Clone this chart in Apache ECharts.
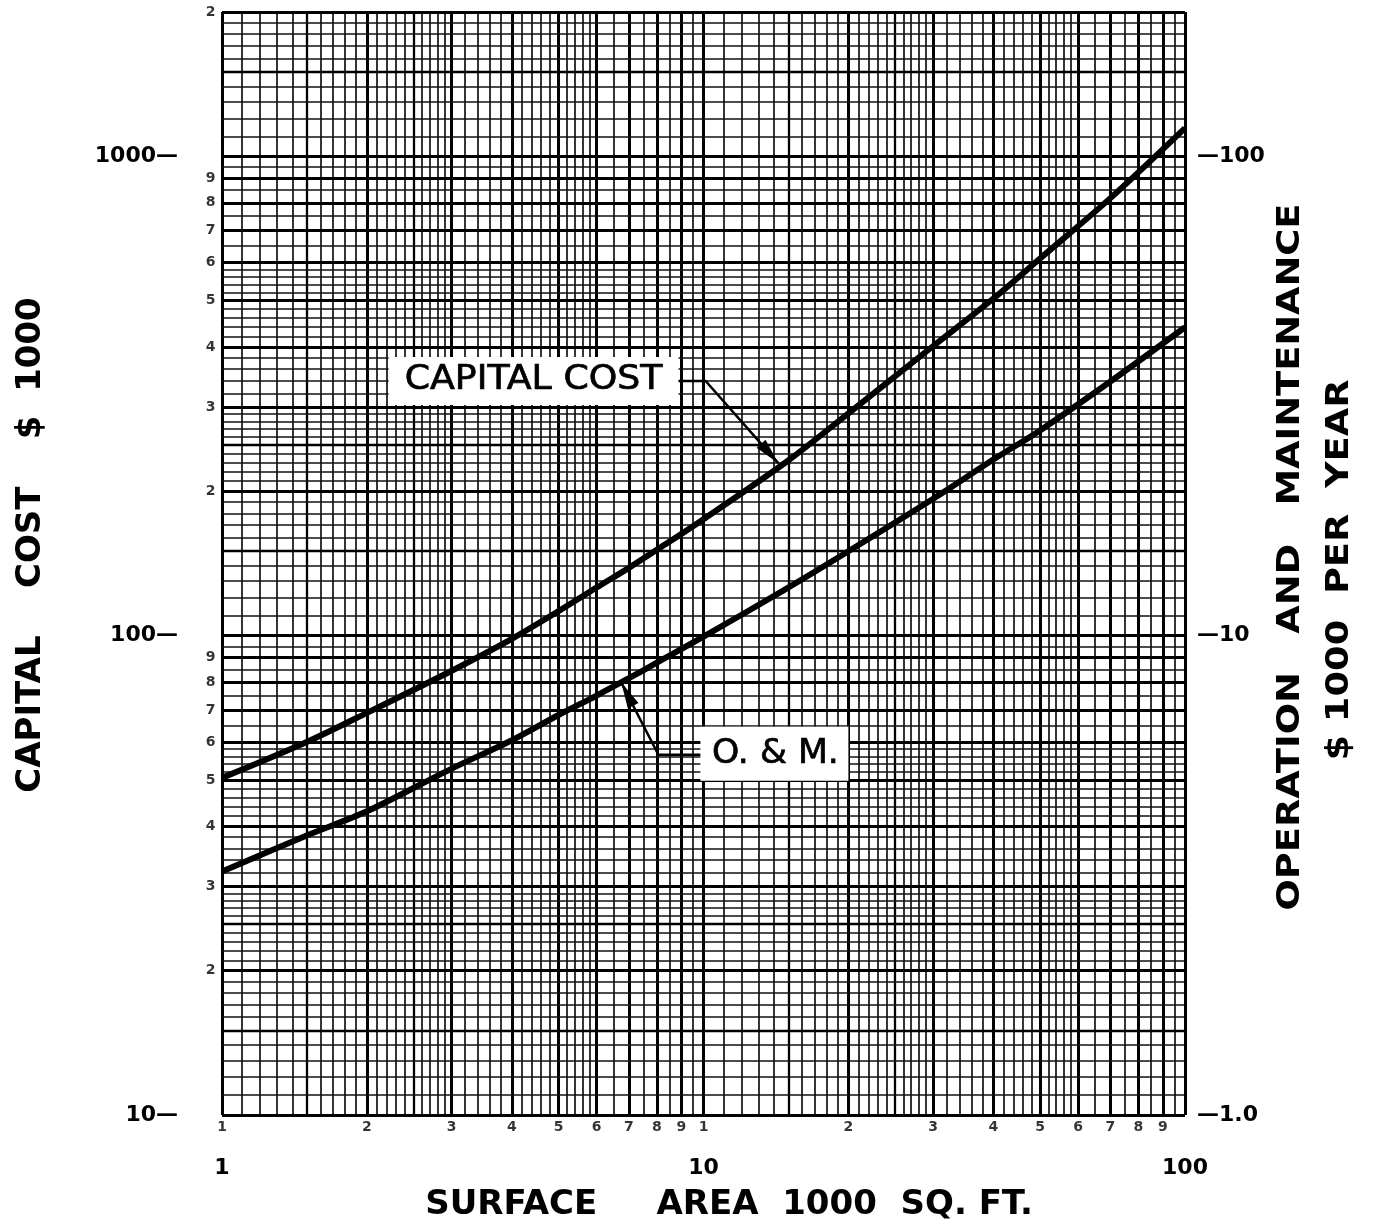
<!DOCTYPE html>
<html>
<head>
<meta charset="utf-8">
<script src="https://cdn.jsdelivr.net/npm/echarts@6/dist/echarts.min.js"></script>
<style>
  html, body { margin: 0; padding: 0; background: #fff; }
  #chart { width: 1376px; height: 1225px; }
</style>
</head>
<body>
<div id="chart"></div>
<script>
// Surface area (1000 sq. ft.) and the two cost curves
const surfaceArea = [1, 1.5, 2, 3, 4, 5, 6, 7, 8, 10, 15, 20, 30, 40, 50, 70, 100];
const capitalCost = [50.5, 60, 69, 84.5, 98.5, 112.5, 126, 138.5, 151, 175, 232, 291, 402, 505, 612, 818, 1145];   // $1000
const omCost      = [3.22, 3.83, 4.3, 5.28, 6.05, 6.83, 7.5, 8.15, 8.78, 9.95, 12.6, 15.0, 19.3, 23.3, 26.8, 33.9, 44.0]; // $1000 per year

// Small in-decade tick labels
const xSubTicks = [1, 2, 3, 4, 5, 6, 7, 8, 9, 10, 20, 30, 40, 50, 60, 70, 80, 90];
const ySubTicks = [20, 30, 40, 50, 60, 70, 80, 90, 200, 300, 400, 500, 600, 700, 800, 900, 2000];

// Log-paper rulings within one decade
const majorMantissa  = [1, 2, 3, 4, 5, 6, 7, 8, 9];
const mediumMantissa = [1.5, 2.5];
const minorMantissa  = [1.1, 1.2, 1.3, 1.4, 1.6, 1.7, 1.8, 1.9,
                        2.1, 2.2, 2.3, 2.4, 2.6, 2.7, 2.8, 2.9,
                        3.2, 3.4, 3.6, 3.8, 4.2, 4.4, 4.6, 4.8,
                        5.2, 5.4, 5.6, 5.8, 6.5, 7.5, 8.5, 9.5];
const xDecades = [1, 10];
const yDecades = [10, 100, 1000];

// Annotation anchors (data coordinates)
const capitalNote = { text: 'CAPITAL COST', elbow: [10.1, 340], tip: [14.3, 229] };
const omNote      = { text: 'O. & M.',      elbow: [8.06, 5.64], tip: [6.75, 7.98] };

const FONT = 'DejaVu Sans';

function leadDigit(v) {
  const p = Math.pow(10, Math.floor(Math.log10(v) + 1e-9));
  return String(Math.round(v / p));
}

function rulings(decades, lo, hi, key) {
  const out = [];
  const add = (list, style) => decades.forEach(d => list.forEach(m => {
    const v = +(d * m).toPrecision(6);
    if (v >= lo - 1e-9 && v <= hi + 1e-9) out.push({ [key]: v, lineStyle: style });
  }));
  add(minorMantissa,  { color: '#111', width: 1.7, type: 'solid' });
  add(mediumMantissa, { color: '#000', width: 2.3, type: 'solid' });
  add(majorMantissa,  { color: '#000', width: 3, type: 'solid' });
  return out;
}

const gridLines = rulings(xDecades, 1, 100, 'xAxis')
  .concat([{ xAxis: 100, lineStyle: { color: '#000', width: 3, type: 'solid' } }])
  .concat(rulings(yDecades, 10, 2000, 'yAxis'));

const chart = echarts.init(document.getElementById('chart'), null, { renderer: 'canvas' });

const boldLabel = { fontFamily: FONT, fontWeight: 'bold', color: '#000' };

chart.setOption({
  animation: false,
  backgroundColor: '#fff',
  grid: { left: 222, right: 191, top: 12, bottom: 110, containLabel: false, outerBoundsMode: 'none' },
  xAxis: {
    type: 'log', logBase: 10, min: 1, max: 100,
    axisLine: { show: false }, axisTick: { show: false }, splitLine: { show: false },
    axisLabel: { ...boldLabel, fontSize: 22, margin: 42, showMaxLabel: true,
      formatter: v => String(v) }
  },
  yAxis: [
    {
      type: 'log', logBase: 10, min: 10, max: 2000, position: 'left',
      axisLine: { show: false }, axisTick: { show: false }, splitLine: { show: false },
      axisLabel: { ...boldLabel, fontSize: 22, margin: 44, showMaxLabel: false,
        formatter: v => v + '\u2014' }
    },
    {
      type: 'log', logBase: 10, min: 1, max: 200, position: 'right',
      axisLine: { show: false }, axisTick: { show: false }, splitLine: { show: false },
      axisLabel: { ...boldLabel, fontSize: 22, margin: 12, showMaxLabel: false,
        formatter: v => '\u2014' + (v === 1 ? '1.0' : String(v)) }
    }
  ],
  series: [
    {
      name: 'x sub ticks', type: 'scatter', silent: true, z: 1,
      symbol: 'circle', symbolSize: 1, itemStyle: { color: 'rgba(0,0,0,0)' },
      data: xSubTicks.map(v => [v, 10]),
      label: { show: true, position: 'bottom', distance: 5, ...boldLabel, fontSize: 14,
        formatter: p => leadDigit(p.value[0]) },
      markLine: {
        silent: true, z: 1, symbol: ['none', 'none'], label: { show: false },
        emphasis: { disabled: true }, animation: false,
        data: gridLines
      }
    },
    {
      name: 'y sub ticks', type: 'scatter', silent: true, z: 1,
      symbol: 'circle', symbolSize: 1, itemStyle: { color: 'rgba(0,0,0,0)' },
      data: ySubTicks.map(v => [1, v]),
      label: { show: true, position: 'left', distance: 6, ...boldLabel, fontSize: 14,
        formatter: p => leadDigit(p.value[1]) }
    },
    {
      name: 'CAPITAL COST', type: 'line', z: 10, smooth: 0.3,
      showSymbol: false, silent: true, yAxisIndex: 0,
      data: surfaceArea.map((x, i) => [x, capitalCost[i]]),
      lineStyle: { color: '#000', width: 6 }
    },
    {
      name: 'O. & M.', type: 'line', z: 10, smooth: 0.3,
      showSymbol: false, silent: true, yAxisIndex: 1,
      data: surfaceArea.map((x, i) => [x, omCost[i]]),
      lineStyle: { color: '#000', width: 6 }
    }
  ]
});

// Leader lines, arrowheads and boxed labels for the two curves
function arrowHead(tip, from, len, half) {
  const dx = tip[0] - from[0], dy = tip[1] - from[1];
  const d = Math.hypot(dx, dy);
  const ux = dx / d, uy = dy / d;
  const bx = tip[0] - ux * len, by = tip[1] - uy * len;
  return [[tip[0], tip[1]], [bx - uy * half, by + ux * half], [bx + uy * half, by - ux * half]];
}

const cE = chart.convertToPixel({ seriesIndex: 2 }, capitalNote.elbow);
const cT = chart.convertToPixel({ seriesIndex: 2 }, capitalNote.tip);
const oE = chart.convertToPixel({ seriesIndex: 3 }, omNote.elbow);
const oT = chart.convertToPixel({ seriesIndex: 3 }, omNote.tip);

const titleStyle = { fill: '#000', fontFamily: FONT, fontWeight: 'bold', fontSize: 34, align: 'center', verticalAlign: 'middle' };
const noteStyle = { fill: '#000', stroke: '#000', lineWidth: 0.7, fontFamily: FONT, fontSize: 33, align: 'center', verticalAlign: 'middle' };

chart.setOption({
  graphic: [
    // CAPITAL COST label
    { type: 'rect', z: 50, silent: true,
      shape: { x: cE[0] - 317, y: cE[1] - 24, width: 290, height: 48 },
      style: { fill: '#fff' } },
    { type: 'text', z: 51, silent: true, x: cE[0] - 172, y: cE[1], scaleX: 1.1,
      style: { ...noteStyle, text: capitalNote.text } },
    { type: 'polyline', z: 52, silent: true,
      shape: { points: [[cE[0] - 27, cE[1]], cE, cT] },
      style: { stroke: '#000', lineWidth: 2.5, fill: null } },
    { type: 'polygon', z: 53, silent: true,
      shape: { points: arrowHead(cT, cE, 26, 6) }, style: { fill: '#000' } },

    // O. & M. label
    { type: 'rect', z: 50, silent: true,
      shape: { x: oE[0] + 42, y: oE[1] - 28, width: 148, height: 54 },
      style: { fill: '#fff' } },
    { type: 'text', z: 51, silent: true, x: oE[0] + 117, y: oE[1], scaleX: 1.05,
      style: { ...noteStyle, text: omNote.text } },
    { type: 'polyline', z: 52, silent: true,
      shape: { points: [[oE[0] + 42, oE[1]], oE, oT] },
      style: { stroke: '#000', lineWidth: 2.5, fill: null } },
    { type: 'polygon', z: 53, silent: true,
      shape: { points: arrowHead(oT, oE, 26, 6) }, style: { fill: '#000' } },

    // Axis titles
    { type: 'text', z: 60, silent: true, x: 729, y: 1205,
      style: { ...titleStyle, text: 'SURFACE     AREA  1000  SQ. FT.' } },
    { type: 'text', z: 60, silent: true, x: 31, y: 545, rotation: Math.PI / 2,
      style: { ...titleStyle, text: 'CAPITAL    COST    $  1000' } },
    { type: 'text', z: 60, silent: true, x: 1291, y: 557, rotation: Math.PI / 2, scaleX: 1.15,
      style: { ...titleStyle, fontSize: 32, text: 'OPERATION   AND   MAINTENANCE' } },
    { type: 'text', z: 60, silent: true, x: 1340, y: 570, rotation: Math.PI / 2, scaleX: 1.15,
      style: { ...titleStyle, fontSize: 32, text: '$ 1000  PER  YEAR' } }
  ]
});
</script>
</body>
</html>
